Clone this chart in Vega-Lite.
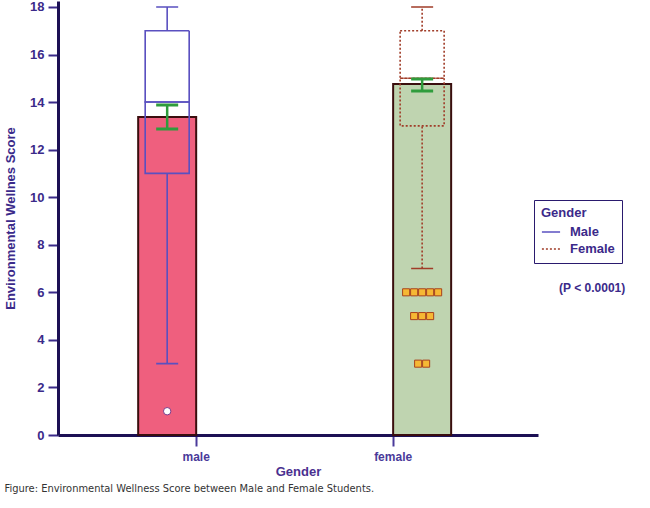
{
  "$schema": "https://vega.github.io/schema/vega-lite/v6.json",
  "width": 480,
  "height": 434,
  "autosize": "none",
  "padding": {"left": 58, "top": 1, "right": 112, "bottom": 73},
  "background": "white",
  "datasets": {
    "stats": [
      {"gender": "male", "mean": 13.37, "ci_lo": 12.87, "ci_hi": 13.88, "min": 3, "q1": 11, "median": 14, "q3": 17, "max": 18},
      {"gender": "female", "mean": 14.76, "ci_lo": 14.47, "ci_hi": 14.97, "min": 7, "q1": 13, "median": 15, "q3": 17, "max": 18}
    ],
    "outliers": [
      {"gender": "male", "score": 1},
      {"gender": "female", "score": 6},
      {"gender": "female", "score": 6},
      {"gender": "female", "score": 6},
      {"gender": "female", "score": 6},
      {"gender": "female", "score": 6},
      {"gender": "female", "score": 5},
      {"gender": "female", "score": 5},
      {"gender": "female", "score": 5},
      {"gender": "female", "score": 3},
      {"gender": "female", "score": 3}
    ]
  },
  "data": {"name": "stats"},
  "title": {
    "text": "Figure: Environmental Wellness Score between Male and Female Students.",
    "orient": "bottom",
    "anchor": "start",
    "frame": "bounds",
    "offset": 5,
    "font": "Liberation Sans Narrow, DejaVu Sans Condensed, Open Sans, sans-serif",
    "fontSize": 11,
    "fontWeight": "normal",
    "color": "#333333"
  },
  "encoding": {
    "x": {
      "field": "gender",
      "type": "nominal",
      "sort": ["male", "female"],
      "scale": {"domain": ["male", "female"], "paddingInner": 0.411, "paddingOuter": 0.424, "align": 0.48},
      "axis": {
        "title": "Gender",
        "labelAngle": 0,
        "domainColor": "#1c1054",
        "domainWidth": 3,
        "tickColor": "#4a3a9a",
        "tickWidth": 2,
        "tickSize": 11,
        "labelPadding": 5,
        "labelFont": "Liberation Sans",
        "labelFontWeight": "bold",
        "labelFontSize": 12,
        "labelColor": "#4a3a9a",
        "titleFont": "Liberation Sans",
        "titleFontWeight": "bold",
        "titleFontSize": 13,
        "titleColor": "#4a3090",
        "titlePadding": 3
      }
    },
    "y": {
      "type": "quantitative",
      "scale": {"domain": [0, 18.25], "nice": false, "zero": true},
      "axis": {
        "title": "Environmental Wellnes Score",
        "values": [0, 2, 4, 6, 8, 10, 12, 14, 16, 18],
        "domainColor": "#1c1054",
        "domainWidth": 3,
        "tickColor": "#3b2a8a",
        "tickWidth": 2,
        "tickSize": 10,
        "labelPadding": 4,
        "labelFont": "Liberation Sans",
        "labelFontWeight": "bold",
        "labelFontSize": 13,
        "labelColor": "#3b2a8a",
        "titleFont": "Liberation Sans",
        "titleFontWeight": "bold",
        "titleFontSize": 13,
        "titleColor": "#3b2a8a",
        "titlePadding": 12
      }
    }
  },
  "layer": [
    {
      "mark": {"type": "bar", "stroke": "#3a0e0e", "strokeWidth": 2},
      "encoding": {
        "y": {"field": "mean", "type": "quantitative"},
        "xOffset": {"field": "gender", "type": "nominal", "scale": {"domain": ["male", "female"]}},
        "fill": {"condition": {"test": "datum.gender == 'male'", "value": "#ef5f7e"}, "value": "#bfd4b0"}
      }
    },
    {
      "mark": {"type": "bar", "width": 44, "fillOpacity": 0, "fill": "white", "strokeWidth": 1.6},
      "encoding": {
        "y": {"field": "q1", "type": "quantitative"},
        "y2": {"field": "median"},
        "xOffset": {"field": "gender", "type": "nominal", "scale": {"domain": ["male", "female"]}},
        "stroke": {
          "field": "gender", "type": "nominal", "title": "Gender",
          "scale": {"domain": ["male", "female"], "range": ["#5a50c0", "#a03c28"]},
          "legend": {
            "orient": "none",
            "legendX": 476,
            "legendY": 199,
            "strokeColor": "#2a1a6e",
            "padding": 7,
            "symbolType": "stroke",
            "symbolSize": 330,
            "symbolStrokeWidth": 1.6,
            "labelOffset": 9,
            "titlePadding": 2,
            "titleFont": "Liberation Sans",
            "titleFontSize": 13,
            "titleFontWeight": "bold",
            "titleColor": "#3b2a8a",
            "labelFont": "Liberation Sans",
            "labelFontSize": 13,
            "labelFontWeight": "bold",
            "labelColor": "#3b2a8a",
            "labelExpr": "datum.label == 'male' ? 'Male' : 'Female'",
            "rowPadding": 0
          }
        },
        "strokeDash": {
          "field": "gender", "type": "nominal", "title": "Gender",
          "scale": {"domain": ["male", "female"], "range": [[1, 0], [2, 2]]},
          "legend": {
            "orient": "none",
            "legendX": 476,
            "legendY": 199,
            "strokeColor": "#2a1a6e",
            "padding": 7,
            "symbolType": "stroke",
            "symbolSize": 330,
            "symbolStrokeWidth": 1.6,
            "labelOffset": 9,
            "titlePadding": 2,
            "titleFont": "Liberation Sans",
            "titleFontSize": 13,
            "titleFontWeight": "bold",
            "titleColor": "#3b2a8a",
            "labelFont": "Liberation Sans",
            "labelFontSize": 13,
            "labelFontWeight": "bold",
            "labelColor": "#3b2a8a",
            "labelExpr": "datum.label == 'male' ? 'Male' : 'Female'",
            "rowPadding": 0
          }
        }
      }
    },
    {
      "mark": {"type": "bar", "width": 44, "fillOpacity": 0, "fill": "white", "strokeWidth": 1.6},
      "encoding": {
        "y": {"field": "median", "type": "quantitative"},
        "y2": {"field": "q3"},
        "xOffset": {"field": "gender", "type": "nominal", "scale": {"domain": ["male", "female"]}},
        "stroke": {"field": "gender", "type": "nominal", "title": "Gender"},
        "strokeDash": {"field": "gender", "type": "nominal", "title": "Gender"}
      }
    },
    {
      "mark": {"type": "rule", "strokeWidth": 1.6},
      "encoding": {
        "y": {"field": "min", "type": "quantitative"},
        "y2": {"field": "q1"},
        "xOffset": {"field": "gender", "type": "nominal", "scale": {"domain": ["male", "female"]}},
        "stroke": {"field": "gender", "type": "nominal", "title": "Gender"},
        "strokeDash": {"field": "gender", "type": "nominal", "title": "Gender"}
      }
    },
    {
      "mark": {"type": "rule", "strokeWidth": 1.6},
      "encoding": {
        "y": {"field": "q3", "type": "quantitative"},
        "y2": {"field": "max"},
        "xOffset": {"field": "gender", "type": "nominal", "scale": {"domain": ["male", "female"]}},
        "stroke": {"field": "gender", "type": "nominal", "title": "Gender"},
        "strokeDash": {"field": "gender", "type": "nominal", "title": "Gender"}
      }
    },
    {
      "mark": {"type": "bar", "width": 22, "fillOpacity": 0, "fill": "white", "strokeWidth": 1.6},
      "encoding": {
        "y": {"field": "min", "type": "quantitative"},
        "y2": {"field": "min"},
        "xOffset": {"field": "gender", "type": "nominal", "scale": {"domain": ["male", "female"]}},
        "stroke": {"field": "gender", "type": "nominal", "title": "Gender"},
        "strokeDash": {"field": "gender", "type": "nominal", "title": "Gender"}
      }
    },
    {
      "mark": {"type": "bar", "width": 22, "fillOpacity": 0, "fill": "white", "strokeWidth": 1.6},
      "encoding": {
        "y": {"field": "max", "type": "quantitative"},
        "y2": {"field": "max"},
        "xOffset": {"field": "gender", "type": "nominal", "scale": {"domain": ["male", "female"]}},
        "stroke": {"field": "gender", "type": "nominal", "title": "Gender"},
        "strokeDash": {"field": "gender", "type": "nominal", "title": "Gender"}
      }
    },
    {
      "mark": {"type": "rule", "stroke": "#2f9c3c", "strokeWidth": 2.5},
      "encoding": {
        "y": {"field": "ci_lo", "type": "quantitative"},
        "y2": {"field": "ci_hi"},
        "xOffset": {"field": "gender", "type": "nominal", "scale": {"domain": ["male", "female"]}}
      }
    },
    {
      "mark": {"type": "bar", "width": 22, "fillOpacity": 0, "fill": "white", "stroke": "#2f9c3c", "strokeWidth": 3},
      "encoding": {
        "y": {"field": "ci_lo", "type": "quantitative"},
        "y2": {"field": "ci_lo"},
        "xOffset": {"field": "gender", "type": "nominal", "scale": {"domain": ["male", "female"]}}
      }
    },
    {
      "mark": {"type": "bar", "width": 22, "fillOpacity": 0, "fill": "white", "stroke": "#2f9c3c", "strokeWidth": 3},
      "encoding": {
        "y": {"field": "ci_hi", "type": "quantitative"},
        "y2": {"field": "ci_hi"},
        "xOffset": {"field": "gender", "type": "nominal", "scale": {"domain": ["male", "female"]}}
      }
    },
    {
      "data": {"name": "outliers"},
      "transform": [{"filter": "datum.gender == 'male'"}],
      "mark": {"type": "point", "shape": "circle", "filled": true, "fill": "white", "stroke": "#7a3a8a", "strokeWidth": 1, "size": 55, "opacity": 1},
      "encoding": {
        "y": {"field": "score", "type": "quantitative"},
        "xOffset": {"field": "gender", "type": "nominal", "scale": {"domain": ["male", "female"]}}
      }
    },
    {
      "data": {"name": "outliers"},
      "transform": [
        {"filter": "datum.gender == 'female'"},
        {"window": [{"op": "row_number", "as": "k"}], "groupby": ["score"]},
        {"joinaggregate": [{"op": "count", "as": "n"}], "groupby": ["score"]},
        {"calculate": "datum.k - (datum.n + 1) / 2", "as": "off"}
      ],
      "mark": {"type": "point", "shape": "square", "filled": true, "fill": "#f6b834", "stroke": "#a8421c", "strokeWidth": 1, "size": 50, "opacity": 1},
      "encoding": {
        "y": {"field": "score", "type": "quantitative"},
        "xOffset": {"field": "off", "type": "quantitative", "scale": {"domain": [-2, 2], "range": [71, 103]}}
      }
    },
    {
      "data": {"values": [{"label": "(P < 0.0001)"}]},
      "mark": {"type": "text", "dx": 199, "align": "center", "baseline": "middle", "font": "Liberation Sans", "fontWeight": "bold", "fontSize": 12, "color": "#3b2a8a"},
      "encoding": {
        "x": {"datum": "female"},
        "y": {"datum": 6.2},
        "text": {"field": "label"}
      }
    }
  ],
  "resolve": {"scale": {"xOffset": "independent"}},
  "config": {
    "view": {"stroke": null},
    "axis": {"grid": false}
  }
}
